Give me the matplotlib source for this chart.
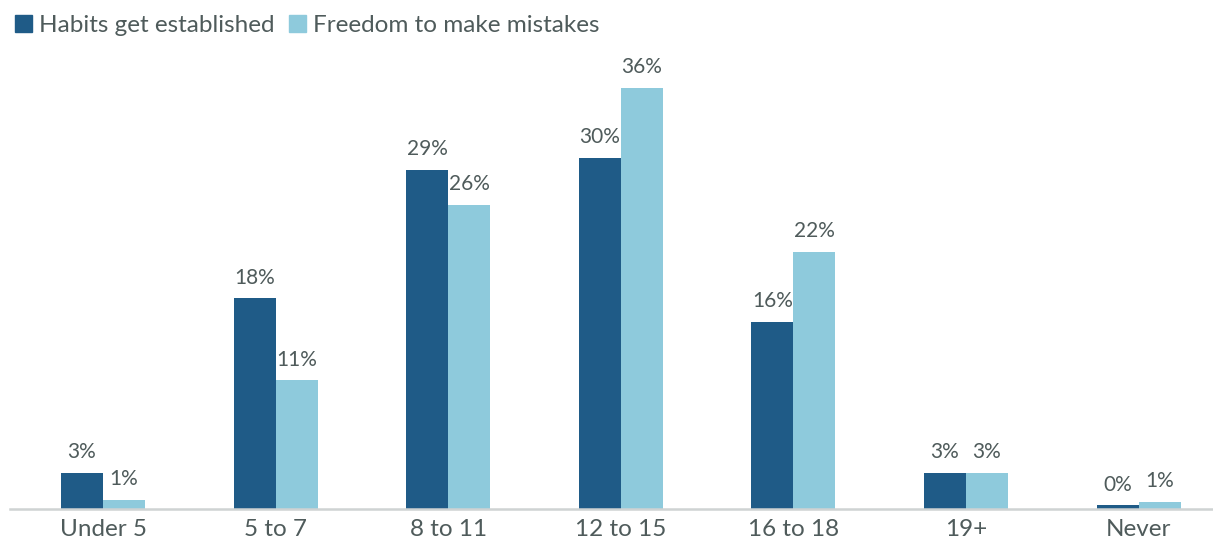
import matplotlib
matplotlib.use("Agg")
import matplotlib.pyplot as plt
import numpy as np
from matplotlib.patches import Patch

categories = ["Under 5", "5 to 7", "8 to 11", "12 to 15", "16 to 18", "19+", "Never"]
habits = [3.1, 18, 29, 30, 16, 3.1, 0.3]
freedom = [0.8, 11, 26, 36, 22, 3.1, 0.6]
habits_labels = ["3%", "18%", "29%", "30%", "16%", "3%", "0%"]
freedom_labels = ["1%", "11%", "26%", "36%", "22%", "3%", "1%"]

DARK = "#1f5b87"
LIGHT = "#8ecadc"
TEXT = "#4f5b5b"

plt.rcParams["font.family"] = ["Lato", "DejaVu Sans"]

fig = plt.figure(figsize=(12.13, 5.4), dpi=100)
ax = fig.add_axes([10 / 1213, 31 / 540, 1203 / 1213, 468 / 540])

x = np.arange(len(categories))
w = 0.243
b1 = ax.bar(x - w / 2, habits, w, color=DARK)
b2 = ax.bar(x + w / 2, freedom, w, color=LIGHT)

for bars, labels in [(b1, habits_labels), (b2, freedom_labels)]:
    for bar, lab in zip(bars, labels):
        ax.text(bar.get_x() + bar.get_width() / 2, bar.get_height() + 0.9, lab,
                ha="center", va="bottom", fontsize=15, color=TEXT)

ax.set_xlim((10 - 103) / 172.6, (1213 - 103) / 172.6)
ax.set_ylim(0, 40)
ax.set_xticks(x)
ax.set_xticklabels(categories, fontsize=17.5, color=TEXT)
ax.tick_params(axis="x", length=0, pad=7)
ax.set_yticks([])
for side in ["top", "right", "left"]:
    ax.spines[side].set_visible(False)
ax.spines["bottom"].set_color("#cfd3d3")
ax.spines["bottom"].set_linewidth(1.8)

handles = [Patch(color=DARK), Patch(color=LIGHT)]
fig.legend(handles, ["Habits get established", "Freedom to make mistakes"],
           loc="upper left", bbox_to_anchor=(0.0, 1.0), ncol=2, frameon=False,
           fontsize=17.5, handlelength=0.7, handleheight=0.7, handletextpad=0.3,
           columnspacing=0.6, labelcolor=TEXT, borderaxespad=0.2)

fig.savefig("out.png", dpi=100)
